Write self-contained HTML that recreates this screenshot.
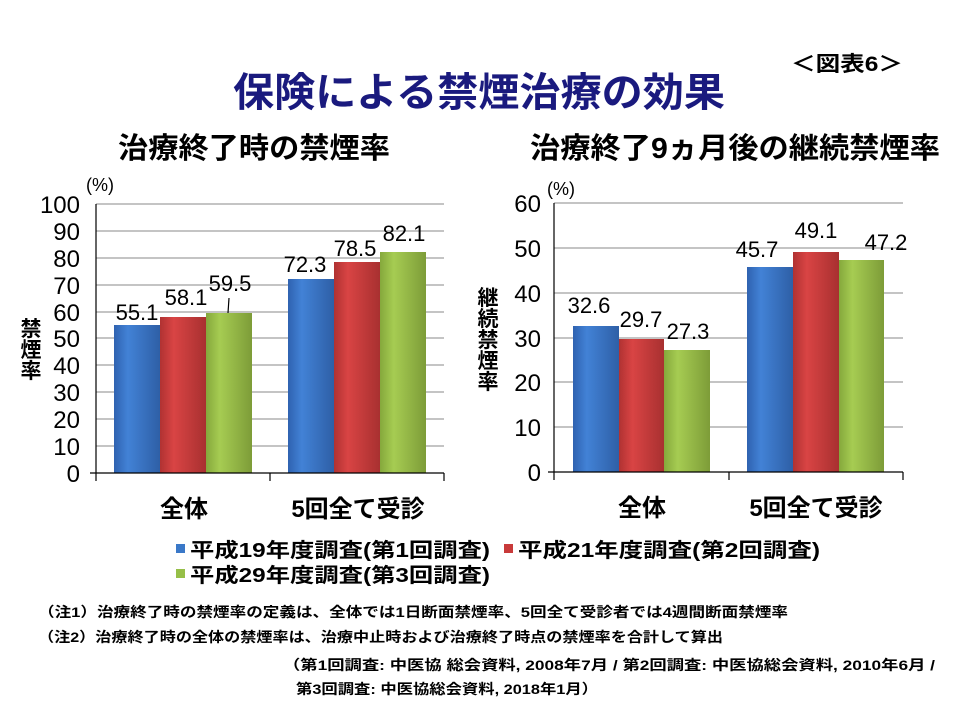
<!DOCTYPE html>
<html><head><meta charset="utf-8"><style>
html,body{margin:0;padding:0;background:#fff;}
svg{display:block;font-family:"Liberation Sans","Noto Sans CJK JP",sans-serif;}
</style></head><body>
<svg width="960" height="720" viewBox="0 0 960 720" xmlns="http://www.w3.org/2000/svg">
<defs>
<linearGradient id="gb" x1="0" y1="0" x2="1" y2="0"><stop offset="0" stop-color="#2f62b0"/><stop offset="0.3" stop-color="#4282d6"/><stop offset="1" stop-color="#2e5fa6"/></linearGradient>
<linearGradient id="gr" x1="0" y1="0" x2="1" y2="0"><stop offset="0" stop-color="#b03232"/><stop offset="0.3" stop-color="#d94444"/><stop offset="1" stop-color="#a83030"/></linearGradient>
<linearGradient id="gg" x1="0" y1="0" x2="1" y2="0"><stop offset="0" stop-color="#85a83c"/><stop offset="0.3" stop-color="#a6cc52"/><stop offset="1" stop-color="#7d9c38"/></linearGradient>
</defs>
<text x="847" y="71" font-size="21" font-weight="bold" text-anchor="middle" textLength="112" lengthAdjust="spacingAndGlyphs">＜図表6＞</text>
<text x="479" y="106" font-size="40" font-weight="bold" fill="#1a1a7e" text-anchor="middle" textLength="492" lengthAdjust="spacingAndGlyphs">保険による禁煙治療の効果</text>
<text x="254" y="158" font-size="29" font-weight="bold" text-anchor="middle" textLength="272" lengthAdjust="spacingAndGlyphs">治療終了時の禁煙率</text>
<text x="735" y="158" font-size="29" font-weight="bold" text-anchor="middle" textLength="410" lengthAdjust="spacingAndGlyphs">治療終了9ヵ月後の継続禁煙率</text>

<!-- Left chart -->
<g stroke="#888" stroke-width="1">
<line x1="96" y1="204" x2="444" y2="204"/><line x1="96" y1="231" x2="444" y2="231"/><line x1="96" y1="258" x2="444" y2="258"/><line x1="96" y1="285" x2="444" y2="285"/><line x1="96" y1="312" x2="444" y2="312"/><line x1="96" y1="338" x2="444" y2="338"/><line x1="96" y1="365" x2="444" y2="365"/><line x1="96" y1="392" x2="444" y2="392"/><line x1="96" y1="419" x2="444" y2="419"/><line x1="96" y1="446" x2="444" y2="446"/>
</g>
<rect x="114" y="325" width="46" height="148" fill="url(#gb)"/>
<rect x="160" y="317" width="46" height="156" fill="url(#gr)"/>
<rect x="206" y="313" width="46" height="160" fill="url(#gg)"/>
<rect x="288" y="279" width="46" height="194" fill="url(#gb)"/>
<rect x="334" y="262" width="46" height="211" fill="url(#gr)"/>
<rect x="380" y="252" width="46" height="221" fill="url(#gg)"/>
<g stroke="#000" stroke-width="1.2">
<line x1="96" y1="204" x2="96" y2="481"/><line x1="90" y1="473" x2="444" y2="473"/>
<line x1="270" y1="473" x2="270" y2="481"/><line x1="444" y1="473" x2="444" y2="481"/>
<line x1="229" y1="298" x2="228" y2="313"/>
</g>
<g font-size="24" text-anchor="end">
<text x="80" y="213">100</text><text x="80" y="240">90</text><text x="80" y="267">80</text><text x="80" y="294">70</text><text x="80" y="321">60</text><text x="80" y="347">50</text><text x="80" y="374">40</text><text x="80" y="401">30</text><text x="80" y="428">20</text><text x="80" y="455">10</text><text x="80" y="482">0</text>
</g>
<text x="86" y="191" font-size="18">(%)</text>
<g font-size="21" font-weight="bold" text-anchor="middle"><text x="31" y="336">禁</text><text x="31" y="357">煙</text><text x="31" y="378">率</text></g>
<g font-size="22" text-anchor="middle">
<text x="137" y="320">55.1</text><text x="186" y="305">58.1</text><text x="230" y="291">59.5</text>
<text x="305" y="272">72.3</text><text x="355" y="256">78.5</text><text x="404" y="241">82.1</text>
</g>
<g font-size="24" font-weight="bold" text-anchor="middle"><text x="184" y="517">全体</text><text x="358" y="517">5回全て受診</text></g>

<!-- Right chart -->
<g stroke="#888" stroke-width="1">
<line x1="554" y1="203" x2="903" y2="203"/><line x1="554" y1="248" x2="903" y2="248"/><line x1="554" y1="293" x2="903" y2="293"/><line x1="554" y1="338" x2="903" y2="338"/><line x1="554" y1="382" x2="903" y2="382"/><line x1="554" y1="427" x2="903" y2="427"/>
</g>
<rect x="573" y="326" width="46" height="146" fill="url(#gb)"/>
<rect x="619" y="339" width="45" height="133" fill="url(#gr)"/>
<rect x="664" y="350" width="46" height="122" fill="url(#gg)"/>
<rect x="747" y="267" width="46" height="205" fill="url(#gb)"/>
<rect x="793" y="252" width="46" height="220" fill="url(#gr)"/>
<rect x="839" y="260" width="45" height="212" fill="url(#gg)"/>
<g stroke="#000" stroke-width="1.2">
<line x1="554" y1="203" x2="554" y2="480"/><line x1="548" y1="472" x2="903" y2="472"/>
<line x1="729" y1="472" x2="729" y2="480"/><line x1="903" y1="472" x2="903" y2="480"/>
</g>
<g font-size="24" text-anchor="end">
<text x="541" y="212">60</text><text x="541" y="257">50</text><text x="541" y="302">40</text><text x="541" y="347">30</text><text x="541" y="391">20</text><text x="541" y="436">10</text><text x="541" y="481">0</text>
</g>
<text x="547" y="195" font-size="18">(%)</text>
<g font-size="21" font-weight="bold" text-anchor="middle"><text x="488" y="305">継</text><text x="488" y="326">続</text><text x="488" y="347">禁</text><text x="488" y="368">煙</text><text x="488" y="389">率</text></g>
<g font-size="22" text-anchor="middle">
<text x="589" y="313">32.6</text><text x="641" y="327">29.7</text><text x="688" y="339">27.3</text>
<text x="757" y="257">45.7</text><text x="816" y="238">49.1</text><text x="886" y="250">47.2</text>
</g>
<g font-size="24" font-weight="bold" text-anchor="middle"><text x="642" y="516">全体</text><text x="816" y="516">5回全て受診</text></g>

<!-- Legend -->
<rect x="176" y="544" width="9" height="9" fill="#3a78c8"/>
<rect x="504" y="544" width="9" height="9" fill="#c83a3a"/>
<rect x="176" y="569" width="9" height="9" fill="#96bf48"/>
<g font-size="20" font-weight="bold">
<text x="190" y="557" textLength="300" lengthAdjust="spacingAndGlyphs">平成19年度調査(第1回調査)</text>
<text x="518" y="557" textLength="302" lengthAdjust="spacingAndGlyphs">平成21年度調査(第2回調査)</text>
<text x="190" y="582" textLength="300" lengthAdjust="spacingAndGlyphs">平成29年度調査(第3回調査)</text>
</g>
<g font-size="14" font-weight="bold">
<text x="38" y="617" textLength="750" lengthAdjust="spacingAndGlyphs">（注1）治療終了時の禁煙率の定義は、全体では1日断面禁煙率、5回全て受診者では4週間断面禁煙率</text>
<text x="38" y="642" textLength="685" lengthAdjust="spacingAndGlyphs">（注2）治療終了時の全体の禁煙率は、治療中止時および治療終了時点の禁煙率を合計して算出</text>
<text x="283" y="670" textLength="652" lengthAdjust="spacingAndGlyphs">（第1回調査: 中医協 総会資料, 2008年7月 / 第2回調査: 中医協総会資料, 2010年6月 /</text>
<text x="296" y="694" textLength="302" lengthAdjust="spacingAndGlyphs">第3回調査: 中医協総会資料, 2018年1月）</text>
</g>
</svg>
</body></html>
